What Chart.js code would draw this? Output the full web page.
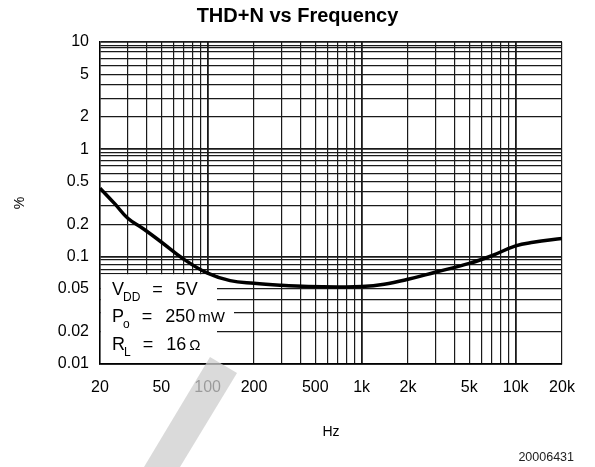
<!DOCTYPE html>
<html>
<head>
<meta charset="utf-8">
<script src="https://cdn.jsdelivr.net/npm/chart.js@4/dist/chart.umd.min.js"></script>
<style>
  html, body { margin: 0; padding: 0; background: #fff; }
  #wrap { width: 595px; height: 467px; }
</style>
</head>
<body>
<div id="wrap"><canvas id="thdChart" width="595" height="467"></canvas></div>
<script>
// --- DATA ---
const freqHz = [20, 25, 30.3, 38, 49, 69, 99, 140, 200, 300, 450, 700, 1000, 1400, 2000, 3000, 5000, 7000, 10000, 13000, 20000];
const thdPct = [0.435, 0.31, 0.228, 0.183, 0.14, 0.096, 0.0705, 0.0598, 0.0565, 0.0542, 0.0527, 0.0522, 0.0526, 0.0553, 0.0615, 0.0715, 0.0865, 0.102, 0.126, 0.136, 0.148];

const xTickValues = [20, 50, 100, 200, 500, 1000, 2000, 5000, 10000, 20000];
const xTickLabels = ['20', '50', '100', '200', '500', '1k', '2k', '5k', '10k', '20k'];
const yTickValues = [10, 5, 2, 1, 0.5, 0.2, 0.1, 0.05, 0.02, 0.01];
const yTickLabels = ['10', '5', '2', '1', '0.5', '0.2', '0.1', '0.05', '0.02', '0.01'];

// grid lines as they appear on the sheet
const xGridValues = [20, 30, 40, 50, 60, 70, 80, 90, 100, 200, 300, 400, 500, 600, 700, 800, 900,
  1000, 2000, 3000, 4000, 5000, 6000, 7000, 8000, 9000, 10000, 20000];
const yGridValues = [10, 9.3, 8.8, 8.2, 7, 6, 5, 4, 3, 2, 1, 0.93, 0.88, 0.79, 0.71, 0.6, 0.5, 0.4, 0.3, 0.2,
  0.1, 0.093, 0.084, 0.076, 0.07, 0.05, 0.04, 0.03, 0.02, 0.01];

const noteRows = [
  { main: 'V', sub: 'DD', value: '5V', unit: '' },
  { main: 'P', sub: 'o', value: '250', unit: 'mW' },
  { main: 'R', sub: 'L', value: '16', unit: 'Ω' }
];
const footNote = '20006431';

const FONT = "'Liberation Sans', Arial, Helvetica, sans-serif";

function labelFor(v, values, labels) {
  const i = values.findIndex(t => Math.abs(t / v - 1) < 1e-6);
  return i >= 0 ? labels[i] : '';
}

function isDecade(v) {
  const l = Math.log10(v);
  return Math.abs(l - Math.round(l)) < 1e-9;
}

const notePlugin = {
  id: 'notes',
  beforeDatasetsDraw(chart) {
    const { ctx, chartArea: a, scales } = chart;
    const boxTop = scales.y.getPixelForValue(0.07) + 1;
    ctx.save();
    ctx.fillStyle = '#fff';
    ctx.fillRect(a.left + 1, boxTop, 116, a.bottom - boxTop - 1);
    ctx.fillRect(a.left + 1, boxTop + 30, 133, 22);

    const baseOffsets = [69, 42, 14];
    ctx.fillStyle = '#000';
    ctx.textBaseline = 'alphabetic';
    noteRows.forEach((row, i) => {
      const y = a.bottom - baseOffsets[i];
      let x = a.left + 12;
      ctx.font = `18px ${FONT}`;
      ctx.fillText(row.main, x, y);
      x += ctx.measureText(row.main).width - 1;
      ctx.font = `12px ${FONT}`;
      ctx.fillText(row.sub, x, y + 6);
      x += ctx.measureText(row.sub).width + 12;
      ctx.font = `18px ${FONT}`;
      ctx.fillText('=', x, y);
      x += ctx.measureText('=').width + 13;
      ctx.fillText(row.value, x, y);
      x += ctx.measureText(row.value).width + 3;
      if (row.unit) {
        ctx.font = `15px ${FONT}`;
        ctx.fillText(row.unit, x, y);
      }
    });
    ctx.restore();
  },
  afterDraw(chart) {
    const { ctx } = chart;
    ctx.save();
    // faint watermark stroke crossing the lower left of the sheet
    ctx.fillStyle = 'rgba(205, 205, 205, 0.75)';
    ctx.beginPath();
    ctx.moveTo(210, 357);
    ctx.lineTo(237, 373);
    ctx.lineTo(180, 467);
    ctx.lineTo(144, 467);
    ctx.closePath();
    ctx.fill();

    ctx.fillStyle = '#222';
    ctx.font = `12.5px ${FONT}`;
    ctx.textAlign = 'right';
    ctx.fillText(footNote, 574, 461);
    ctx.restore();
  }
};

const ctx = document.getElementById('thdChart').getContext('2d');
const chart = new Chart(ctx, {
  type: 'line',
  data: {
    datasets: [{
      data: freqHz.map((f, i) => ({ x: f, y: thdPct[i] })),
      borderColor: '#000',
      borderWidth: 3.5,
      pointRadius: 0,
      tension: 0.4,
      fill: false
    }]
  },
  options: {
    responsive: false,
    animation: false,
    layout: { padding: 0 },
    plugins: {
      legend: { display: false },
      tooltip: { enabled: false },
      title: {
        display: true,
        text: 'THD+N vs Frequency',
        color: '#000',
        font: { family: FONT, size: 20, weight: 'bold' },
        padding: { top: 4, bottom: 14 }
      }
    },
    scales: {
      x: {
        type: 'logarithmic',
        min: 20,
        max: 20000,
        afterBuildTicks: s => { s.ticks = xGridValues.map(v => ({ value: v })); },
        afterFit: s => { s.height = 103; },
        grid: {
          color: '#1a1a1a',
          lineWidth: c => (c.tick && isDecade(c.tick.value) ? 1.8 : 1.2),
          drawTicks: false
        },
        border: { display: true, color: '#000', width: 1.5 },
        ticks: {
          autoSkip: false,
          maxRotation: 0,
          padding: 14,
          color: '#000',
          font: { family: FONT, size: 16 },
          callback: v => labelFor(v, xTickValues, xTickLabels)
        },
        title: {
          display: true,
          text: 'Hz',
          color: '#000',
          font: { family: FONT, size: 14 },
          padding: { top: 0, bottom: 26 }
        }
      },
      y: {
        type: 'logarithmic',
        min: 0.01,
        max: 10,
        afterBuildTicks: s => { s.ticks = yGridValues.map(v => ({ value: v })); },
        afterFit: s => { s.width = 100; },
        grid: {
          color: '#1a1a1a',
          lineWidth: c => (c.tick && isDecade(c.tick.value) ? 1.8 : 1.2),
          drawTicks: false
        },
        border: { display: true, color: '#000', width: 1.5 },
        ticks: {
          autoSkip: false,
          padding: 11,
          color: '#000',
          font: { family: FONT, size: 16 },
          callback: v => labelFor(v, yTickValues, yTickLabels)
        },
        title: {
          display: true,
          text: '%',
          color: '#000',
          font: { family: FONT, size: 14 },
          padding: { top: 12, bottom: 0 }
        }
      },
      // empty right margin so the title stays centred on the page
      yRight: {
        position: 'right',
        type: 'linear',
        grid: { display: false },
        border: { display: false },
        ticks: { display: false },
        afterFit: s => { s.width = 33; }
      }
    }
  },
  plugins: [notePlugin]
});
</script>
</body>
</html>
